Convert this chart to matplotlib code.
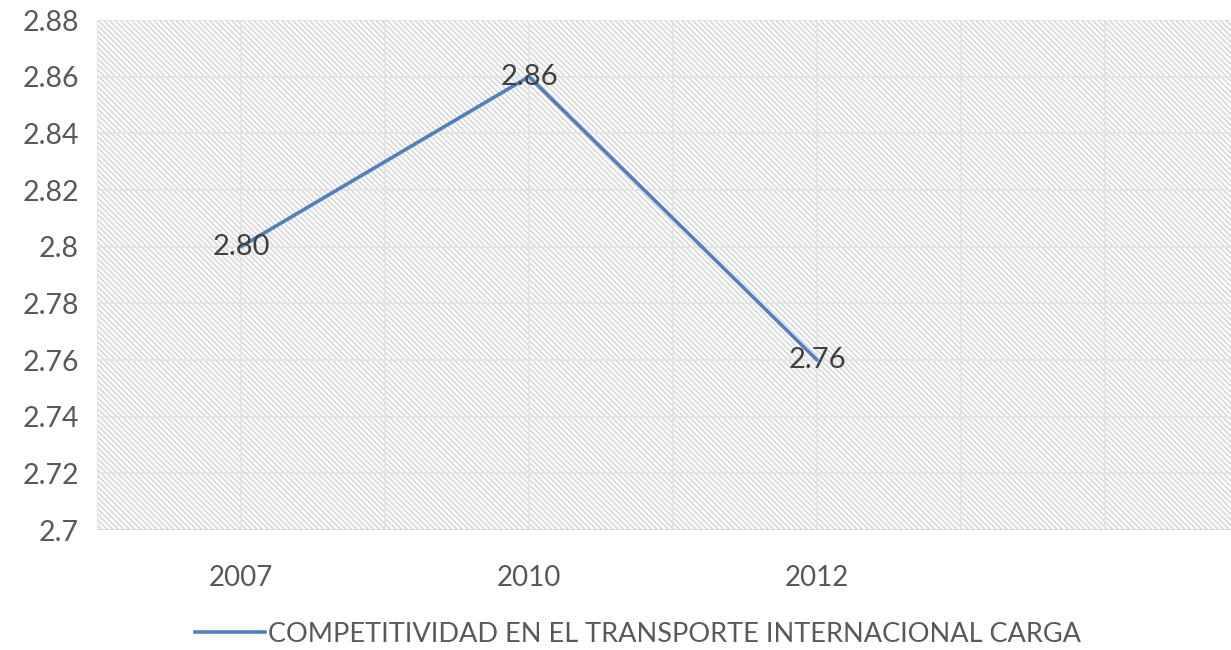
import matplotlib
matplotlib.use("Agg")
import matplotlib.pyplot as plt
from matplotlib.patches import Rectangle
from matplotlib.lines import Line2D
import numpy as np

categories = ["2007", "2010", "2012"]
values = [2.80, 2.86, 2.76]
value_labels = ["2.80", "2.86", "2.76"]
yticks = [2.7, 2.72, 2.74, 2.76, 2.78, 2.8, 2.82, 2.84, 2.86, 2.88]
ytick_labels = ["2.7", "2.72", "2.74", "2.76", "2.78", "2.8", "2.82", "2.84", "2.86", "2.88"]
series_name = "COMPETITIVIDAD EN EL TRANSPORTE INTERNACIONAL CARGA"

plt.rcParams['font.family'] = ['Lato', 'DejaVu Sans']
plt.rcParams['hatch.linewidth'] = 1.1
plt.rcParams['hatch.color'] = '#d6d6d6'

fig = plt.figure(figsize=(12.31, 6.5), dpi=100)
ax = fig.add_axes([97/1231, 1-530/650, 1-97/1231, 510/650])

x = list(range(len(categories)))
xmin, xmax = -0.5, (1231-97)/288 - 0.5
ax.set_xlim(xmin, xmax)
ax.set_ylim(2.7, 2.88)

# hatched plot area
ax.add_patch(Rectangle((0, 0), 1, 1, transform=ax.transAxes, facecolor='white',
                       edgecolor='#d6d6d6', hatch='\\' * 6, linewidth=0, zorder=0))

# gridlines
for gx in np.arange(xmin, xmax + 0.01, 0.5):
    ax.axvline(gx, color='#e3e3e3', lw=1.2, zorder=1)
for gy in yticks:
    ax.axhline(gy, color='#e3e3e3', lw=1.2, zorder=1)
ax.axhline(2.7, color='#d9d9d9', lw=1.5, zorder=2)

ax.plot(x, values, color='#4f81bd', lw=2.6, zorder=3, solid_capstyle='round')
for xi, v, lab in zip(x, values, value_labels):
    ax.text(xi, v, lab, ha='center', va='center', fontsize=21, color='#404040', zorder=4)

ax.set_yticks(yticks)
ax.set_yticklabels(ytick_labels)
ax.set_xticks(x)
ax.set_xticklabels(categories)
ax.tick_params(axis='both', length=0, labelcolor='#595959')
ax.tick_params(axis='y', pad=13, labelsize=20.5)
ax.tick_params(axis='x', pad=25, labelsize=20)
for s in ax.spines.values():
    s.set_visible(False)

handle = Line2D([], [], color='#4f81bd', lw=2.6)
fig.legend([handle], [series_name], loc='center', bbox_to_anchor=(638/1231, 1-634/650),
           frameon=False, fontsize=19.5, labelcolor='#595959', handlelength=2.6,
           handletextpad=0.1)

fig.savefig("out.png", dpi=100)
